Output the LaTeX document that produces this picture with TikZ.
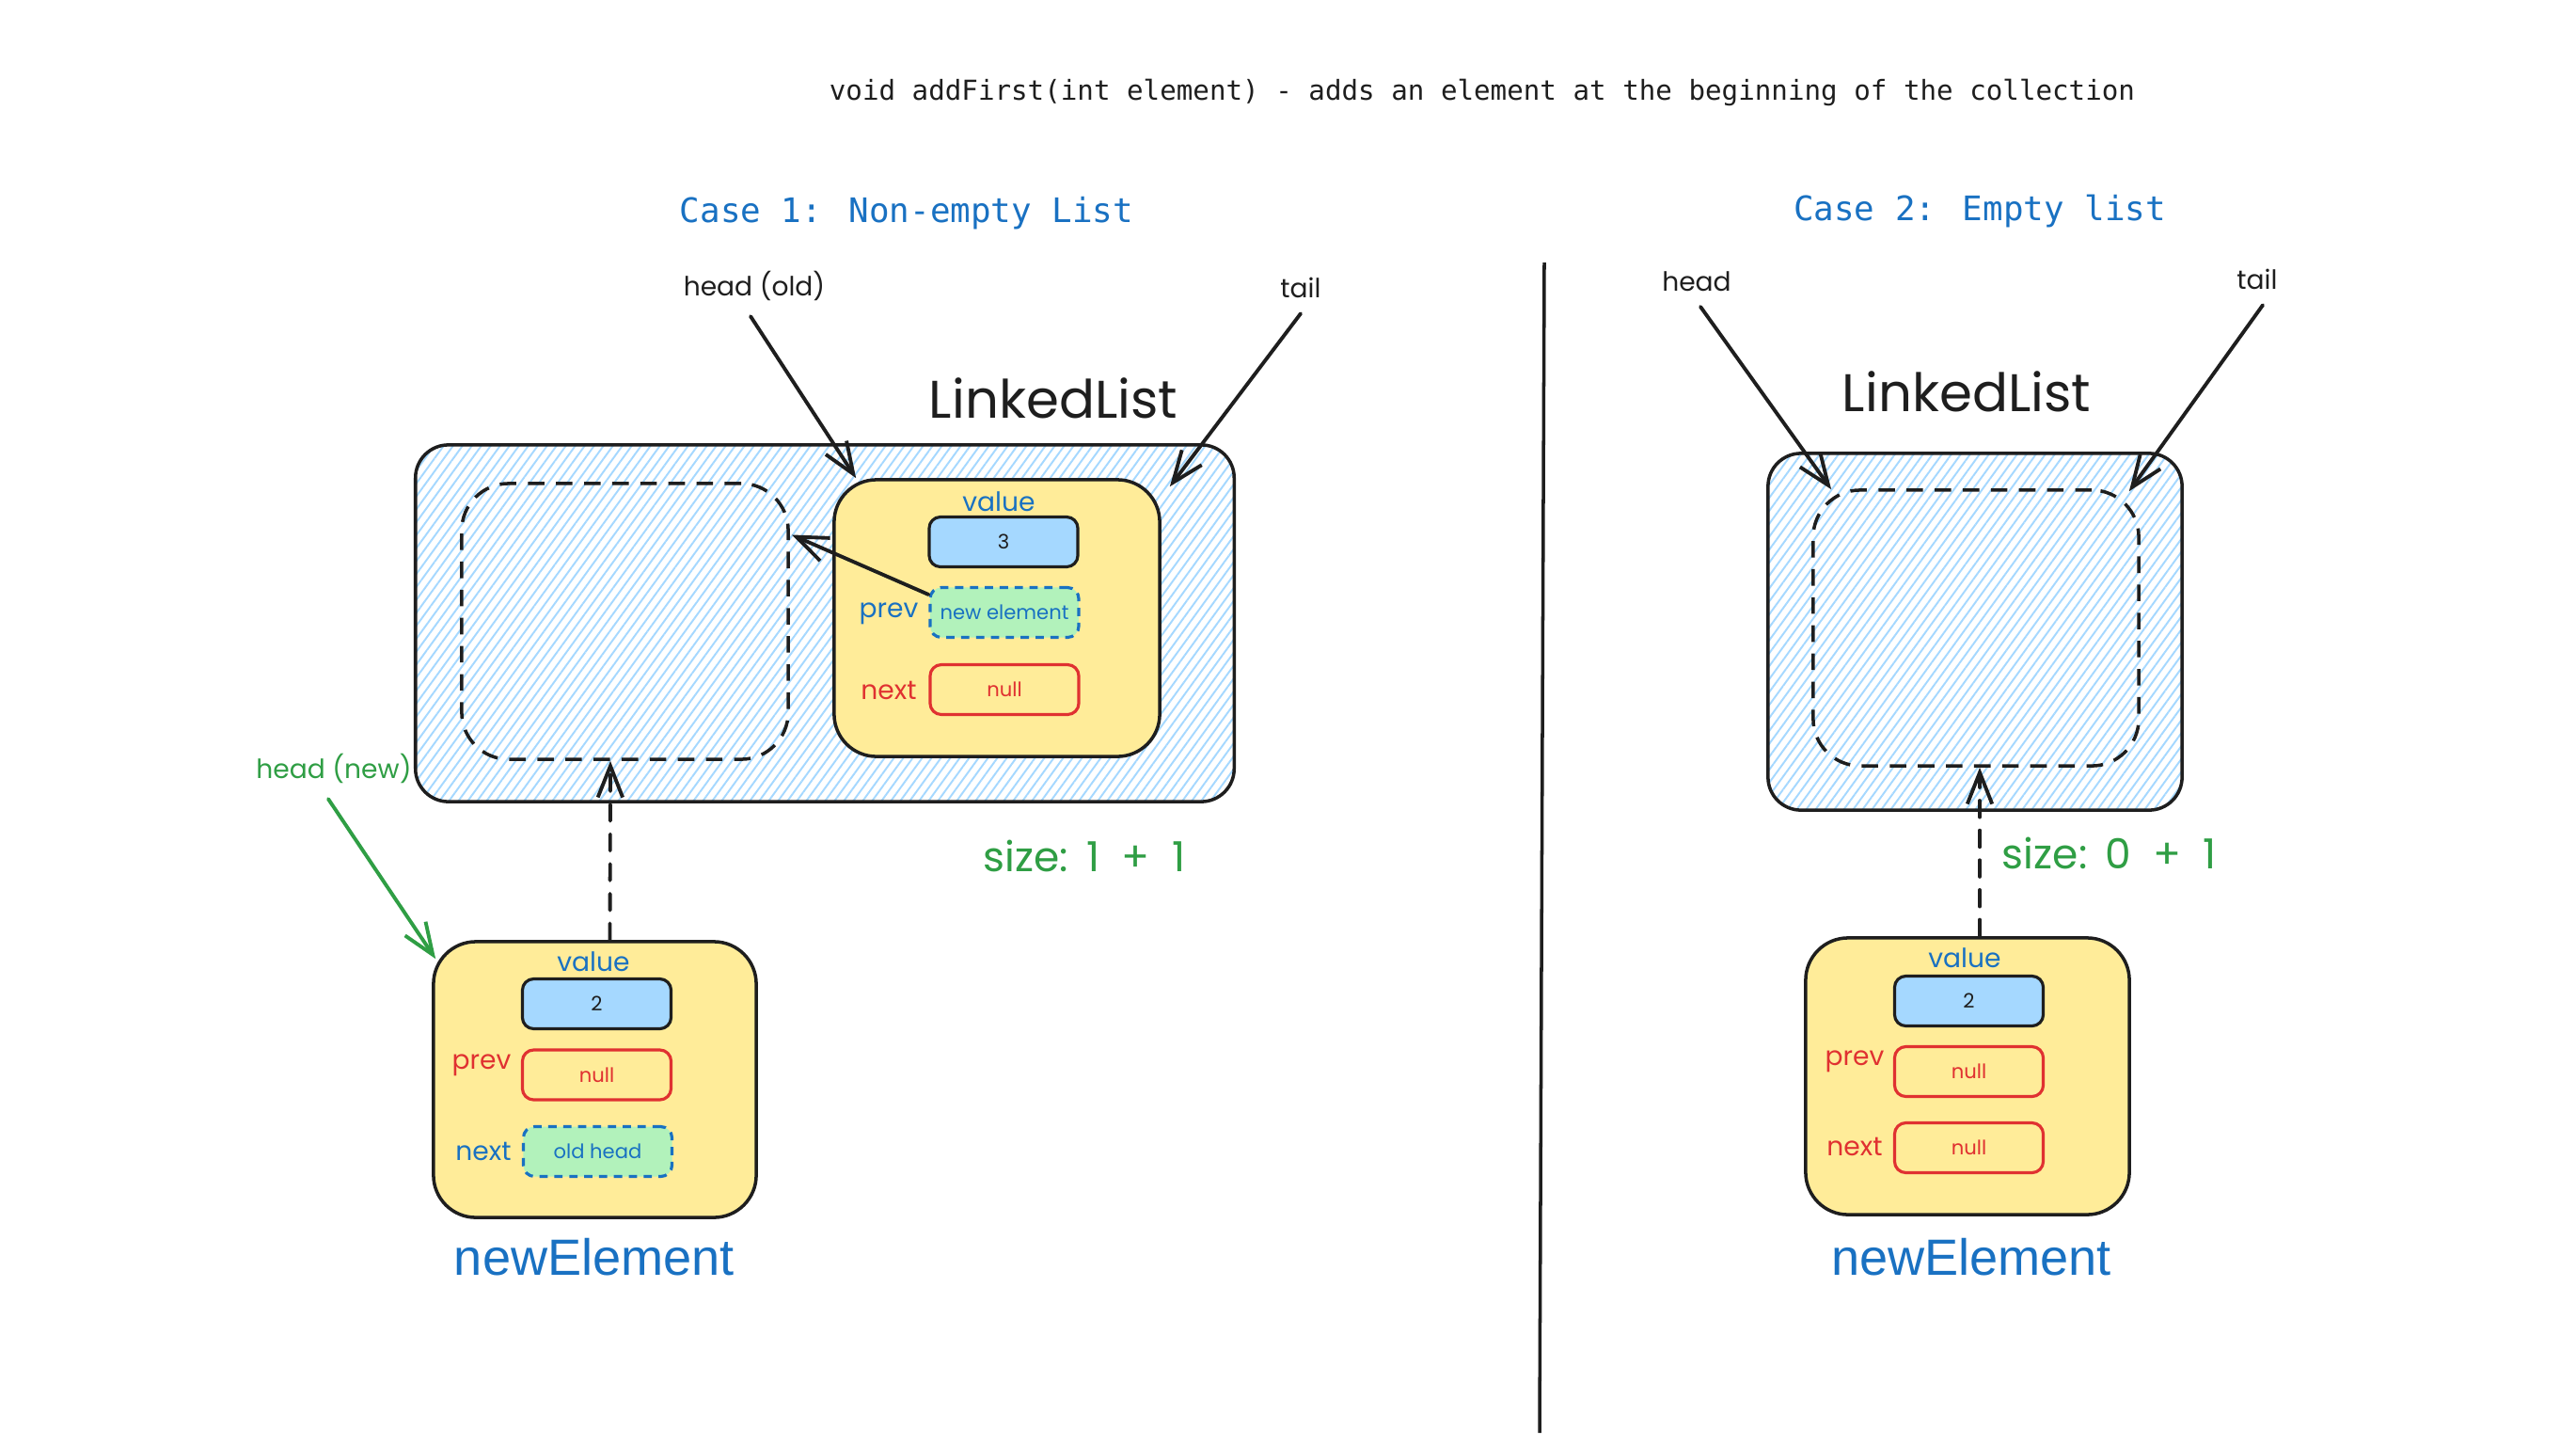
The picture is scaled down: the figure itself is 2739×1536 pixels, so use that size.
\documentclass[tikz,border=0pt]{standalone}
\usepackage{fontspec}
\usetikzlibrary{calc,arrows.meta,patterns.meta}
\newfontfamily\handfont{Poppins}
\newfontfamily\codefont{DejaVu Sans Mono}
\newfontfamily\plainsans{Liberation Sans}
\definecolor{ink}{HTML}{1E1E1E}
\definecolor{hatchblue}{HTML}{A5D8FF}
\definecolor{cellblue}{HTML}{A5D8FF}
\definecolor{nodeyellow}{HTML}{FFEC99}
\definecolor{cellgreen}{HTML}{B2F2BB}
\definecolor{txtblue}{HTML}{1971C2}
\definecolor{txtred}{HTML}{E03131}
\definecolor{txtgreen}{HTML}{2F9E44}
\newcommand{\fsz}[1]{\fontsize{#1}{#1}\selectfont}

\tikzset{
  listbox/.style={draw=ink, line width=1pt, rounded corners=0.35cm, inner sep=0pt,
    pattern={Lines[angle=54,distance=2.3pt,line width=0.55pt]}, pattern color=hatchblue},
  slotbox/.style={draw=ink, line width=1pt, dash pattern=on 5pt off 3.5pt,
    rounded corners=0.5cm, inner sep=0pt},
  elembox/.style={draw=ink, line width=1pt, fill=nodeyellow, rounded corners=0.45cm, inner sep=0pt},
  cell/.style={line width=0.9pt, rounded corners=0.12cm, minimum width=1.58cm,
    minimum height=0.53cm, inner sep=0pt, font=\handfont\fsz{6}},
  valcell/.style={cell, draw=ink, fill=cellblue, text=ink},
  nullcell/.style={cell, draw=txtred, text=txtred},
  refcell/.style={cell, draw=txtblue, fill=cellgreen, text=txtblue, dash pattern=on 2.5pt off 2pt},
  fieldlab/.style={font=\handfont\fsz{8}, inner sep=1pt},
  ptrlab/.style={font=\handfont\fsz{8}, text=ink},
  ptr/.style={draw=ink, line width=1.1pt, line cap=round, -{Straight Barb[length=9.5pt,width=7.5pt]}},
  linkptr/.style={ptr, dash pattern=on 5pt off 4pt},
  bigtitle/.style={font=\plainsans\fsz{15.4}, text=txtblue},
  casetitle/.style={font=\codefont\fsz{10.2}, text=txtblue},
  sizelab/.style={font=\handfont\fsz{12.5}, text=txtgreen},
  listname/.style={font=\handfont\fsz{16}, text=ink},
}

\begin{document}
\begin{tikzpicture}[x=0.01cm, y=-0.01cm]
\useasboundingbox (0,0) rectangle (2739,1536);
\fill[white] (0,0) rectangle (2739,1536);

% heading
\node[font=\codefont\fsz{8.3}, text=ink] (heading) at (1576,98)
  {void addFirst(int element) - adds an element at the beginning of the collection};
\node[casetitle] (case1) at (964,227) {Case 1: Non-empty List};
\node[casetitle] (case2) at (2105,225) {Case 2: Empty list};

% divider between the two cases
\coordinate (divtop) at (1642,279);
\coordinate (divbot) at (1637,1523);
\draw[ink, line width=1pt] (divtop) -- (divbot);

% ---------- case 1: non-empty list ----------
\node[listbox, minimum width=8.70cm, minimum height=3.79cm] (list1) at (877,662.5) {};
\node[listname] (ll1) at (1120,423) {LinkedList};
\node[slotbox, minimum width=3.47cm, minimum height=2.93cm] (slot1) at (664.5,660.5) {};

\node[elembox, minimum width=3.46cm, minimum height=2.94cm] (old1) at (1060,657) {};
\node[fieldlab, text=txtblue] (old1vl) at (1062,533) {value};
\node[valcell] (old1v) at (1067,576) {3};
\node[fieldlab, text=txtblue] (old1pl) at (945,652) {prev};
\node[refcell] (old1p) at (1068,651) {new element};
\node[fieldlab, text=txtred] (old1nl) at (945,734) {next};
\node[nullcell] (old1n) at (1068,733) {null};

\node[ptrlab] (hold) at (802,304) {head (old)};
\node[ptrlab] (tail1) at (1383,306) {tail};
\draw[ptr] ($(hold.south)+(-4,4)$) -- ($(old1.north west)+(25,0)$);
\draw[ptr] ($(tail1.south)+(0,4)$) -- ($(old1.north east)+(9,9)$);
\draw[ptr] ($(old1p.west)+(0,-19)$) -- ($(slot1.east)+(2,-92)$);

\node[elembox, minimum width=3.43cm, minimum height=2.93cm] (new1) at (632.5,1147.5) {};
\node[fieldlab, text=txtblue] (new1vl) at (631,1022) {value};
\node[valcell] (new1v) at (634.5,1067) {2};
\node[fieldlab, text=txtred] (new1pl) at (512,1132) {prev};
\node[nullcell] (new1p) at (634.5,1142.5) {null};
\node[fieldlab, text=txtblue] (new1nl) at (514,1224) {next};
\node[refcell] (new1n) at (635.5,1224) {old head};
\node[bigtitle] (new1t) at (632,1336) {newElement};

\draw[linkptr] ($(new1.north)+(16,0)$) -- ($(slot1.south)+(-15.5,0)$);

\node[ptrlab, text=txtgreen] (hnew) at (355,817) {head (new)};
\draw[ptr, draw=txtgreen] ($(hnew.south)+(-6,4)$) -- ($(new1.north west)+(4,20)$);

\node[sizelab] (size1) at (1153,910) {size:\ \,1\ \ +\ \ 1};

% ---------- case 2: empty list ----------
\node[listbox, minimum width=4.40cm, minimum height=3.79cm] (list2) at (2100,671.5) {};
\node[listname] (ll2) at (2091,416) {LinkedList};
\node[slotbox, minimum width=3.46cm, minimum height=2.93cm] (slot2) at (2101,667.5) {};

\node[ptrlab] (head2) at (1804,299) {head};
\node[ptrlab] (tail2) at (2400,297) {tail};
\draw[ptr] ($(head2.south)+(4,4)$) -- ($(slot2.north west)+(21,1)$);
\draw[ptr] ($(tail2.south)+(6,4)$) -- ($(slot2.north east)+(-12,3)$);

\node[elembox, minimum width=3.44cm, minimum height=2.94cm] (new2) at (2092,1144) {};
\node[fieldlab, text=txtblue] (new2vl) at (2089,1018) {value};
\node[valcell] (new2v) at (2093.5,1064) {2};
\node[fieldlab, text=txtred] (new2pl) at (1972,1128) {prev};
\node[nullcell] (new2p) at (2093.5,1139) {null};
\node[fieldlab, text=txtred] (new2nl) at (1972,1219) {next};
\node[nullcell] (new2n) at (2093.5,1220) {null};
\node[bigtitle] (new2t) at (2096,1336) {newElement};

\draw[linkptr] ($(new2.north)+(13,0)$) -- ($(slot2.south)+(4,0)$);

\node[sizelab] (size2) at (2243,907) {size:\ \,0\ \ +\ \ 1};
\end{tikzpicture}
\end{document}
